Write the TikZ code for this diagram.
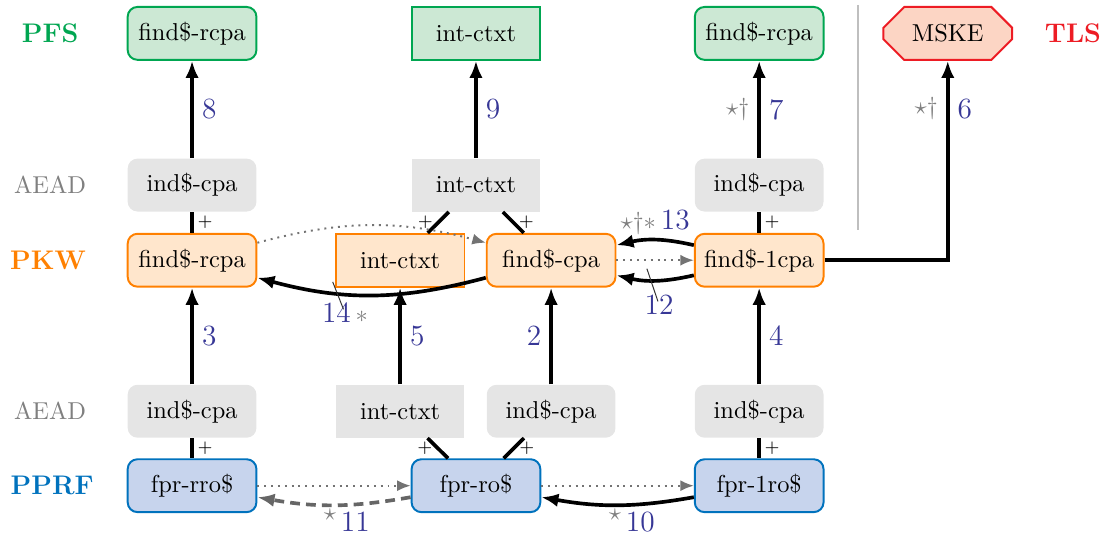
\documentclass[tikz,border=0pt]{standalone}
\usetikzlibrary{arrows.meta,shapes.misc,positioning}

\definecolor{pfsgreen}{RGB}{0,166,81}
\definecolor{pfsfill}{RGB}{204,232,212}
\definecolor{pkworange}{RGB}{255,128,0}
\definecolor{pkwfill}{RGB}{255,230,204}
\definecolor{pprfblue}{RGB}{0,114,189}
\definecolor{pprffill}{RGB}{199,212,237}
\definecolor{tlsred}{RGB}{237,28,36}
\definecolor{tlsfill}{RGB}{252,213,196}
\definecolor{stepblue}{RGB}{55,55,150}

% assumption marks next to the step numbers
\newcommand{\assm}[1]{\textcolor{black!50}{\normalsize$#1$}}
\newcommand{\upstar}{\textcolor{black!50}{\normalsize\raisebox{4.5pt}{$\star$}}}

\tikzset{
  game/.style={minimum width=1.85cm, minimum height=0.76cm, inner sep=2pt},
  pfs/.style={game, thick, rounded corners=4pt, draw=pfsgreen, fill=pfsfill},
  pkw/.style={game, thick, rounded corners=4pt, draw=pkworange, fill=pkwfill},
  pprf/.style={game, thick, rounded corners=4pt, draw=pprfblue, fill=pprffill},
  tls/.style={game, thick, chamfered rectangle, chamfered rectangle xsep=0.2cm, draw=tlsred, fill=tlsfill},
  aead/.style={game, rounded corners=4pt, fill=black!10},
  rowlabel/.style={font=\fontsize{11}{13}\selectfont\bfseries},
  arr/.style={line width=1.5pt, -{Latex[length=7pt,width=5.5pt]}},
  weak/.style={thick, dotted, black!55, -{Latex[length=5.5pt,width=4.5pt]}},
  plusline/.style={line width=1.5pt},
  plussign/.style={font=\scriptsize, inner sep=1.5pt},
  num/.style={text=stepblue, font=\large},
  lead/.style={thin, black!80, shorten <=-5pt, shorten >=-4pt},
}

\begin{document}
\begin{tikzpicture}
  \useasboundingbox (0,0) rectangle (15.88,-7.72);

  % row names
  \node[rowlabel, pfsgreen] (lbl-pfs) at (0.72,-0.48) {PFS};
  \node[black!50] (lbl-aead1) at (0.72,-2.66) {AEAD};
  \node[rowlabel, pkworange] (lbl-pkw) at (0.69,-3.74) {PKW};
  \node[black!50] (lbl-aead2) at (0.72,-5.91) {AEAD};
  \node[rowlabel, pprfblue] (lbl-pprf) at (0.75,-6.98) {PPRF};
  \node[rowlabel, tlsred] (lbl-tls) at (15.42,-0.48) {TLS};

  % PFS and TLS
  \node[pfs] (pfs-rcpa) at (2.76,-0.48) {find\$-rcpa};
  \node[pfs, sharp corners] (pfs-ctxt) at (6.84,-0.48) {int-ctxt};
  \node[pfs] (pfs-rcpa2) at (10.91,-0.48) {find\$-rcpa};
  \node[tls] (mske) at (13.62,-0.48) {MSKE};
  \draw[black!25, line width=1.2pt] (12.33,-0.07) -- (12.33,-3.31);

  % AEAD, upper
  \node[aead] (ae-cpa1) at (2.76,-2.66) {ind\$-cpa};
  \node[aead, sharp corners] (ae-ctxt1) at (6.84,-2.66) {int-ctxt};
  \node[aead] (ae-cpa2) at (10.91,-2.66) {ind\$-cpa};

  % PKW
  \node[pkw] (pkw-rcpa) at (2.76,-3.74) {find\$-rcpa};
  \node[pkw, sharp corners] (pkw-ctxt) at (5.75,-3.74) {int-ctxt};
  \node[pkw] (pkw-cpa) at (7.92,-3.74) {find\$-cpa};
  \node[pkw] (pkw-1cpa) at (10.91,-3.74) {find\$-1cpa};

  % AEAD, lower
  \node[aead] (ae-cpa3) at (2.76,-5.91) {ind\$-cpa};
  \node[aead, sharp corners] (ae-ctxt2) at (5.75,-5.91) {int-ctxt};
  \node[aead] (ae-cpa4) at (7.92,-5.91) {ind\$-cpa};
  \node[aead] (ae-cpa5) at (10.91,-5.91) {ind\$-cpa};

  % PPRF
  \node[pprf] (prf-rro) at (2.76,-6.98) {fpr-rro\$};
  \node[pprf] (prf-ro) at (6.84,-6.98) {fpr-ro\$};
  \node[pprf] (prf-1ro) at (10.91,-6.98) {fpr-1ro\$};

  % PKW -> PFS / TLS
  \draw[arr] (ae-cpa1) -- node[num, right] {8} (pfs-rcpa);
  \draw[arr] (ae-ctxt1) -- node[num, right] {9} (pfs-ctxt);
  \draw[arr] (ae-cpa2) -- node[num, right] {7} node[left] {\assm{{\star}{\dagger}}} (pfs-rcpa2);
  \draw[arr] (pkw-1cpa) -| node[num, right, pos=0.88] {6} node[left, pos=0.88] {\assm{{\star}{\dagger}}} (mske);

  % combining with AEAD
  \draw[plusline] (ae-cpa1) -- node[plussign, right] {+} (pkw-rcpa);
  \draw[plusline] (ae-ctxt1) -- node[plussign, left] {+} (pkw-ctxt);
  \draw[plusline] (ae-ctxt1) -- node[plussign, right] {+} (pkw-cpa);
  \draw[plusline] (ae-cpa2) -- node[plussign, right] {+} (pkw-1cpa);
  \draw[plusline] (ae-cpa3) -- node[plussign, right] {+} (prf-rro);
  \draw[plusline] (ae-ctxt2) -- node[plussign, left] {+} (prf-ro);
  \draw[plusline] (ae-cpa4) -- node[plussign, right] {+} (prf-ro);
  \draw[plusline] (ae-cpa5) -- node[plussign, right] {+} (prf-1ro);

  % PPRF -> PKW
  \draw[arr] (ae-cpa3) -- node[num, right] {3} (pkw-rcpa);
  \draw[arr] (ae-ctxt2) -- node[num, right] {5} (pkw-ctxt);
  \draw[arr] (ae-cpa4) -- node[num, left] {2} (pkw-cpa);
  \draw[arr] (ae-cpa5) -- node[num, right] {4} (pkw-1cpa);

  % trivial implications
  \draw[weak] (pkw-rcpa) to[bend left=15] (pkw-cpa);
  \draw[weak] (pkw-cpa) -- (pkw-1cpa);
  \draw[weak] (prf-rro) -- (prf-ro);
  \draw[weak] (prf-ro) -- (prf-1ro);

  % reductions within a row
  \draw[arr] (pkw-1cpa) to[bend right=13] node[num, above, inner sep=1.5pt] {\assm{{\star}{\dagger}{\ast}}\,13} (pkw-cpa);
  \draw[arr] (pkw-1cpa) to[bend left=13] coordinate[pos=0.56] (at12) (pkw-cpa);
  \draw[arr] (pkw-cpa) to[bend left=15] coordinate[pos=0.66] (at14) (pkw-rcpa);
  \draw[arr] (prf-1ro) to[bend left=10] node[num, below, pos=0.4, inner sep=1pt] {\upstar\,10} (prf-ro);
  \draw[arr, black!60, dash pattern=on 4pt off 2.5pt] (prf-ro) to[bend left=10] node[num, below, pos=0.41, inner sep=1pt] {\upstar\,11} (prf-rro);

  % step numbers hung below their arrows
  \node[num, inner sep=1pt, below right=1.7mm and -1.3mm of at12] (n12) {12};
  \node[num, inner sep=1pt, below right=1.0mm and -2.6mm of at14] (n14) {14\,\assm{\ast}};
  \draw[lead] (at12) -- (n12);
  \draw[lead] (at14) -- (n14);
\end{tikzpicture}
\end{document}
